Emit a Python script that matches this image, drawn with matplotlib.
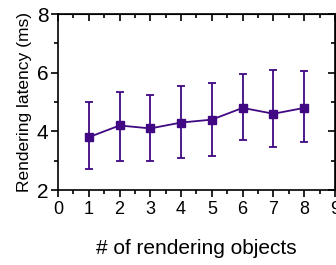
import numpy as np
import matplotlib.pyplot as plt
from matplotlib.ticker import MultipleLocator

plt.rcParams['font.family'] = ['Liberation Sans', 'DejaVu Sans']

objects = [1, 2, 3, 4, 5, 6, 7, 8]
latency = [3.8, 4.2, 4.1, 4.3, 4.4, 4.8, 4.6, 4.8]
err_low = [1.1, 1.2, 1.1, 1.2, 1.23, 1.11, 1.13, 1.17]
err_high = [1.2, 1.13, 1.14, 1.26, 1.25, 1.14, 1.5, 1.25]

color = '#400882'

fig = plt.figure(figsize=(3.36, 2.65), dpi=100)
ax = fig.add_axes([0.1726, 0.283, 0.8244, 0.664])

ax.errorbar(objects, latency, yerr=[err_low, err_high], color=color,
            marker='s', markersize=6, linewidth=1.3, elinewidth=1.3,
            capsize=2.6, capthick=1.3)

ax.set_xlim(0, 9)
ax.set_ylim(2, 8)
ax.xaxis.set_major_locator(MultipleLocator(1))
ax.xaxis.set_minor_locator(MultipleLocator(0.5))
ax.yaxis.set_major_locator(MultipleLocator(2))
ax.yaxis.set_minor_locator(MultipleLocator(1))

ax.tick_params(which='major', direction='out', length=5, width=1.2)
ax.tick_params(which='minor', direction='out', length=3, width=1.2)
ax.tick_params(axis='x', labelsize=13, pad=3)
ax.tick_params(axis='y', labelsize=15, pad=2)
for s in ax.spines.values():
    s.set_linewidth(1.2)

# top and right ticks point inward
top = ax.secondary_xaxis('top')
top.xaxis.set_major_locator(MultipleLocator(1))
top.xaxis.set_minor_locator(MultipleLocator(0.5))
top.tick_params(which='major', direction='in', length=5, width=1.2, labeltop=False)
top.tick_params(which='minor', direction='in', length=3, width=1.2)
right = ax.secondary_yaxis('right')
right.yaxis.set_major_locator(MultipleLocator(2))
right.yaxis.set_minor_locator(MultipleLocator(1))
right.tick_params(which='major', direction='in', length=5, width=1.2, labelright=False)
right.tick_params(which='minor', direction='in', length=3, width=1.2)

ax.set_xlabel('# of rendering objects', fontsize=15, labelpad=15)
ax.set_ylabel('Rendering latency (ms)', fontsize=12.5, labelpad=3)

fig.savefig('out.png', dpi=100)
